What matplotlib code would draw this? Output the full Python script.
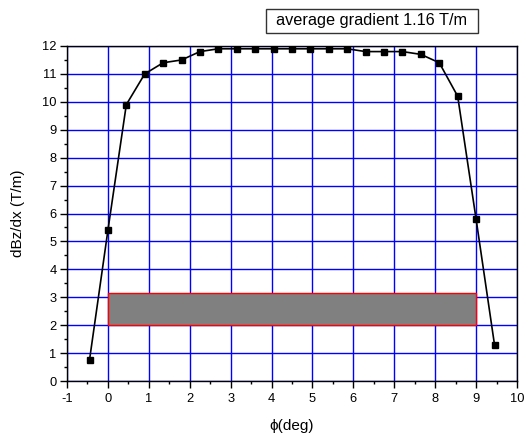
import numpy as np
import matplotlib.pyplot as plt
from matplotlib.patches import Rectangle
from matplotlib.ticker import MultipleLocator

plt.rcParams['font.family'] = ['Liberation Sans', 'DejaVu Sans']

# data
phi = [-0.45, 0.0, 0.45, 0.9, 1.35, 1.8, 2.25, 2.7, 3.15, 3.6, 4.05, 4.5,
       4.95, 5.4, 5.85, 6.3, 6.75, 7.2, 7.65, 8.1, 8.55, 9.0, 9.45]
grad = [0.75, 5.4, 9.9, 11.0, 11.4, 11.5, 11.8, 11.9, 11.9, 11.9, 11.9, 11.9,
        11.9, 11.9, 11.9, 11.8, 11.8, 11.8, 11.7, 11.4, 10.2, 5.8, 1.3]
band_x = [0.0, 9.0]
band_y = [2.0, 3.15]
note = "average gradient 1.16 T/m"

W, H = 528, 434
fig = plt.figure(figsize=(W / 100, H / 100), dpi=100)
ax = fig.add_axes([67 / W, 1 - 381 / H, 450 / W, 335 / H])

ax.set_xlim(-1, 10)
ax.set_ylim(0, 12)
ax.xaxis.set_major_locator(MultipleLocator(1))
ax.xaxis.set_minor_locator(MultipleLocator(0.5))
ax.yaxis.set_major_locator(MultipleLocator(1))
ax.yaxis.set_minor_locator(MultipleLocator(0.5))
ax.grid(True, which='major', color='#0000ff', lw=1.0)
ax.set_axisbelow(True)

ax.add_patch(Rectangle((band_x[0], band_y[0]), band_x[1] - band_x[0],
                       band_y[1] - band_y[0], facecolor='#808080',
                       edgecolor='#ff0000', lw=1.0, zorder=2))

ax.plot(phi, grad, color='black', lw=1.2, marker='s', ms=5, zorder=3)

ax.tick_params(which='both', direction='out', top=False, right=False,
               labelsize=9.3)
ax.tick_params(which='major', length=5, width=1)
ax.tick_params(which='minor', length=2.5, width=1)
ax.tick_params(axis='y', which='major', pad=2.5)
ax.set_xticklabels([str(int(v)) for v in ax.get_xticks()])
for s in ax.spines.values():
    s.set_linewidth(1.0)

ax.set_xlabel("\u03d5(deg)", fontsize=11)
ax.set_ylabel("dBz/dx (T/m)", fontsize=11)
ax.xaxis.set_label_coords(0.5, -(423 - 381) / 335 + 0.012)
ax.yaxis.set_label_coords(-(67 - 25) / 450, 0.5)

# annotation box above the axes
fig.patches.append(Rectangle((266 / W, 1 - 33 / H), 212 / W, 24 / H,
                             transform=fig.transFigure, fc='white',
                             ec='#333333', lw=1.0))
fig.text(372 / W, 1 - 21 / H, note, fontsize=11.7, ha='center', va='center')

fig.savefig('out.png', dpi=100)
